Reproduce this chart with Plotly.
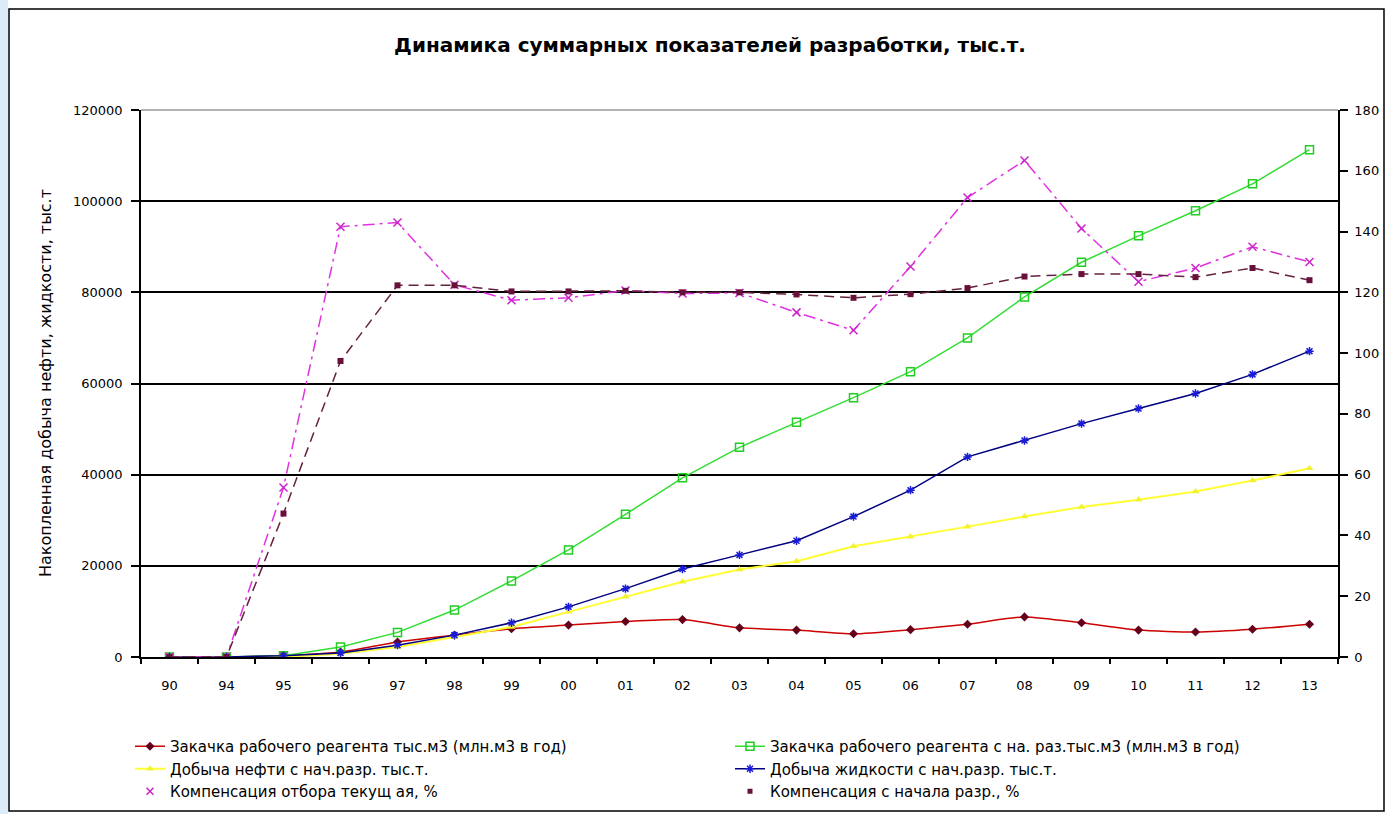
import plotly.graph_objects as go

categories = ['90', '94', '95', '96', '97', '98', '99', '00', '01', '02', '03',
              '04', '05', '06', '07', '08', '09', '10', '11', '12', '13']

inj_year = [0, 0, 300, 1100, 3300, 4800, 6200, 7000, 7800, 8200, 6400,
            5900, 5100, 6000, 7200, 8800, 7500, 5900, 5500, 6100, 7200]
inj_cum = [0, 0, 300, 2200, 5400, 10300, 16700, 23500, 31300, 39300, 46000,
           51500, 56900, 62600, 70000, 79000, 86600, 92400, 97900, 103800, 111300]
oil_cum = [0, 0, 0, 700, 2200, 4400, 6600, 9900, 13200, 16500, 19200,
           21000, 24300, 26400, 28600, 30800, 32900, 34500, 36300, 38700, 41400]
liq_cum = [0, 0, 300, 900, 2600, 4800, 7500, 11000, 15000, 19300, 22400,
           25500, 30800, 36600, 43900, 47500, 51200, 54500, 57800, 62000, 67100]
comp_cur = [0, 0, 55.8, 141.6, 143, 122.5, 117.4, 118.2, 120.6, 119.6, 119.8,
            113.4, 107.5, 128.5, 151.2, 163.4, 141, 123.5, 128, 135, 130]
comp_cum = [0, 0, 47.2, 97.4, 122.3, 122.3, 120.3, 120.3, 120.5, 120, 120,
            119.3, 118.2, 119.4, 121.4, 125.2, 126, 126, 125, 128, 124]

names = ['Закачка рабочего реагента тыс.м3 (млн.м3 в год)',
         'Закачка рабочего реагента с на. раз.тыс.м3 (млн.м3 в год)',
         'Добыча нефти с нач.разр. тыс.т.',
         'Добыча жидкости с нач.разр. тыс.т.',
         'Компенсация отбора текущ ая, %',
         'Компенсация с начала разр., %']

y_title = 'Накопленная добыча нефти, жидкости, тыс.т'
left_ticks = [0, 20000, 40000, 60000, 80000, 100000, 120000]
right_ticks = [0, 20, 40, 60, 80, 100, 120, 140, 160, 180]

W, H = 1389, 814
L, R, T, B = 141, 51, 110, 157
PW, PH = W - L - R, H - T - B

def px(x):
    return (x - L) / PW

def py(y):
    return (H - B - y) / PH

FONT = 'DejaVu Sans'

fig = go.Figure()

fig.add_trace(go.Scatter(x=categories, y=inj_year, name=names[0], mode='lines+markers',
                         legend='legend', legendrank=1,
                         line=dict(color='#CC0000', width=1.5, shape='spline', smoothing=0.6),
                         marker=dict(symbol='diamond', size=7, color='#66001A')))
fig.add_trace(go.Scatter(x=categories, y=inj_cum, name=names[1], mode='lines+markers',
                         legend='legend2', legendrank=1,
                         line=dict(color='#33DD33', width=1.5),
                         marker=dict(symbol='square-open', size=8, color='#22CC22',
                                     line=dict(width=1.5))))
fig.add_trace(go.Scatter(x=categories, y=oil_cum, name=names[2], mode='lines+markers',
                         legend='legend', legendrank=2,
                         line=dict(color='#FFFF33', width=2),
                         marker=dict(symbol='triangle-up', size=7, color='#F2F233')))
fig.add_trace(go.Scatter(x=categories, y=liq_cum, name=names[3], mode='lines+markers',
                         legend='legend2', legendrank=2,
                         line=dict(color='#000080', width=1.5),
                         marker=dict(symbol='asterisk-open', size=7, color='#1A1AD9',
                                     line=dict(width=1.5, color='#1A1AD9'))))
fig.add_trace(go.Scatter(x=categories, y=comp_cur, name=names[4], mode='lines+markers',
                         yaxis='y2', showlegend=False,
                         line=dict(color='#E033E0', width=1.5, dash='12px,5px,3px,5px'),
                         marker=dict(symbol='x-thin-open', size=8, color='#CC22CC',
                                     line=dict(width=1.5, color='#CC22CC'))))
fig.add_trace(go.Scatter(x=categories, y=comp_cum, name=names[5], mode='lines+markers',
                         yaxis='y2', showlegend=False,
                         line=dict(color='#66203F', width=1.5, dash='10px,6px'),
                         marker=dict(symbol='square', size=6, color='#66103A')))
# legend-only entries (marker only, as in the original legend)
fig.add_trace(go.Scatter(x=[None], y=[None], name=names[4], mode='markers', yaxis='y2',
                         legend='legend', legendrank=3,
                         marker=dict(symbol='x-thin-open', size=7, color='#CC22CC',
                                     line=dict(width=1.5, color='#CC22CC'))))
fig.add_trace(go.Scatter(x=[None], y=[None], name=names[5], mode='markers', yaxis='y2',
                         legend='legend2', legendrank=3,
                         marker=dict(symbol='square', size=5, color='#66103A')))

legend_common = dict(orientation='v', xref='container', yref='container',
                     xanchor='left', yanchor='top', tracegroupgap=0,
                     font=dict(family=FONT, size=15), bgcolor='rgba(0,0,0,0)',
                     traceorder='normal')

fig.update_layout(
    width=W, height=H,
    margin=dict(l=L, r=R, t=T, b=B, autoexpand=False),
    paper_bgcolor='white', plot_bgcolor='rgba(0,0,0,0)',
    font=dict(family=FONT, size=13, color='black'),
    title=dict(text='<b>Динамика суммарных показателей разработки, тыс.т.</b>',
               x=710 / W, xanchor='center', xref='container',
               y=1 - 45 / H, yanchor='middle', yref='container',
               font=dict(family=FONT, size=20, color='black')),
    xaxis=dict(type='category', categoryorder='array', categoryarray=categories,
               showline=True, linecolor='black', linewidth=1.5,
               ticks='outside', ticklen=5, tickcolor='black', tickwidth=1.5,
               tickson='boundaries', showgrid=False, zeroline=False,
               ticklabelstandoff=16,
               tickfont=dict(size=13), range=[-0.5, 20.5]),
    yaxis=dict(range=[0, 120000], tickvals=left_ticks, ticktext=[str(v) for v in left_ticks],
               showline=True, linecolor='black', linewidth=1.5,
               ticks='outside', ticklen=8, tickcolor='black', tickwidth=1.5,
               ticklabelstandoff=6,
               showgrid=True, gridcolor='black', gridwidth=1.5, zeroline=False,
               tickfont=dict(size=13)),
    yaxis2=dict(range=[0, 180], tickvals=right_ticks, overlaying='y', side='right',
                showline=True, linecolor='black', linewidth=1.5,
                ticks='outside', ticklen=8, tickcolor='black', tickwidth=1.5,
                ticklabelstandoff=4,
                showgrid=False, zeroline=False, tickfont=dict(size=13)),
    legend=dict(legend_common, x=130 / W, y=1 - 730 / H),
    legend2=dict(legend_common, x=730 / W, y=1 - 730 / H),
    annotations=[
        dict(text=y_title, xref='paper', yref='paper', x=px(45), y=py(383),
             xanchor='center', yanchor='middle', textangle=-90, showarrow=False,
             font=dict(family=FONT, size=16, color='black')),
    ],
    shapes=[
        dict(type='rect', xref='paper', yref='paper', layer='below',
             x0=px(0), x1=px(8), y0=py(H), y1=py(0),
             fillcolor='#DCEBF8', line=dict(width=0)),
        dict(type='rect', xref='paper', yref='paper', layer='below',
             x0=px(9), x1=px(1384), y0=py(811), y1=py(9),
             fillcolor='white', line=dict(color='black', width=1.5)),
        dict(type='line', xref='paper', yref='paper', layer='above',
             x0=0, x1=1, y0=1, y1=1, line=dict(color='#999999', width=1.5)),
    ],
)

fig.write_html('out.html', config={'displayModeBar': False},
               post_script="document.body.style.margin='0px';document.body.style.overflow='hidden';")
